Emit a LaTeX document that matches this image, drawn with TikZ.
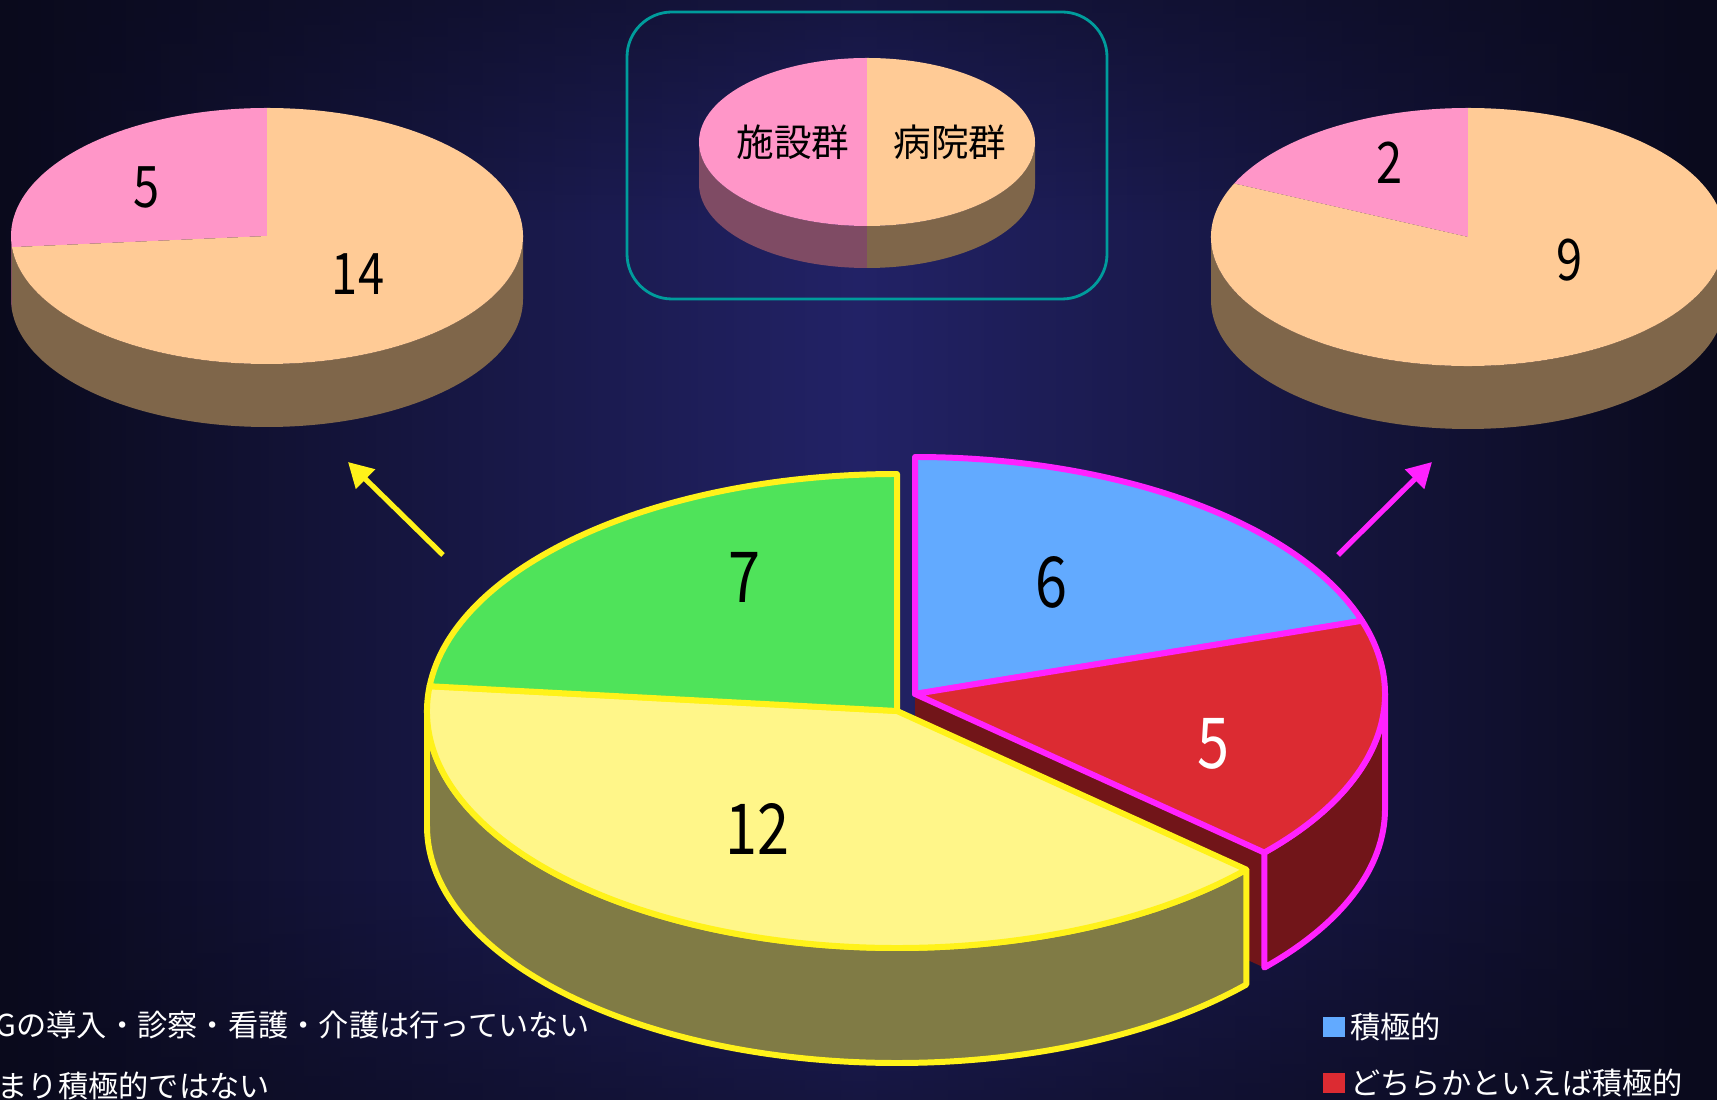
\documentclass[tikz,border=0pt]{standalone}
\usepackage{fontspec}
\setmainfont{Noto Sans CJK JP}
\newfontfamily\numfont[FakeStretch=0.82]{Noto Sans CJK JP}
\usetikzlibrary{positioning,arrows.meta,fadings}

\definecolor{bgmid}{HTML}{222266}
\definecolor{bgedge}{HTML}{0A0A1C}
\definecolor{pgreen}{HTML}{4FE35A}
\definecolor{pblue}{HTML}{62AAFF}
\definecolor{pred}{HTML}{DC2B32}
\definecolor{predside}{HTML}{711519}
\definecolor{pyellow}{HTML}{FFF689}
\definecolor{pyellowside}{HTML}{807B45}
\definecolor{lineyellow}{HTML}{FFF21A}
\definecolor{linemagenta}{HTML}{FF22FF}
\definecolor{peach}{HTML}{FFCB96}
\definecolor{peachside}{HTML}{7F664A}
\definecolor{grppink}{HTML}{FF96C8}
\definecolor{pinkside}{HTML}{7F4B64}
\definecolor{boxteal}{HTML}{009C9C}

\begin{document}
\begin{tikzpicture}[x=0.1mm,y=0.1mm,
  outlineY/.style={draw=lineyellow,line width=1.7pt,line join=round},
  outlineM/.style={draw=linemagenta,line width=1.7pt,line join=round},
  bignum/.style={font=\numfont\fontsize{20}{22}\selectfont},
  smallnum/.style={font=\numfont\fontsize{16.3}{18}\selectfont},
  grouplabel/.style={font=\fontsize{10.7}{12}\selectfont},
  keytext/.style={text=white,font=\fontsize{8.6}{10}\selectfont,inner sep=0pt,anchor=west},
  keybox/.style={inner sep=0pt,minimum width=2.2mm,minimum height=2mm},
  pointer/.style={line width=1.5pt,-{Triangle[length=7pt,width=7.5pt]}}]
\clip (0,0) rectangle (1717,-1100);
% background
\shade[left color=bgedge,right color=bgedge,middle color=bgmid] (0,0) rectangle (1717,-1100);
\fill[bgedge,opacity=0.5,path fading=south] (0,0) rectangle (1717,-220);
\fill[bgedge,opacity=0.5,path fading=north] (0,-880) rectangle (1717,-1100);

% legend box
\node[draw=boxteal,line width=0.8pt,rounded corners=4.5mm,minimum width=48mm,minimum height=28.7mm] (legendbox) at (867,-155.5) {};
\fill[pinkside] (867,-142) ++(180:168 and 84) arc[start angle=180,end angle=270,x radius=168,y radius=84] -- ++(0,-42) arc[start angle=270,end angle=180,x radius=168,y radius=84] -- cycle;
\fill[peachside] (867,-142) ++(270:168 and 84) arc[start angle=270,end angle=360,x radius=168,y radius=84] -- ++(0,-42) arc[start angle=360,end angle=270,x radius=168,y radius=84] -- cycle;
\fill[grppink] (867,-142) -- ++(90:168 and 84) arc[start angle=90,end angle=270,x radius=168,y radius=84] -- cycle;
\fill[peach] (867,-142) -- ++(-90:168 and 84) arc[start angle=-90,end angle=90,x radius=168,y radius=84] -- cycle;
\node[grouplabel] (shisetsu) at (793,-142) {施設群};
\node[grouplabel] (byouin) at (950,-142) {病院群};

% left small pie
\fill[pinkside] (267,-236) ++(180:256 and 128) arc[start angle=180,end angle=185,x radius=256,y radius=128] -- ++(0,-63) arc[start angle=185,end angle=180,x radius=256,y radius=128] -- cycle;
\fill[peachside] (267,-236) ++(185:256 and 128) arc[start angle=185,end angle=360,x radius=256,y radius=128] -- ++(0,-63) arc[start angle=360,end angle=185,x radius=256,y radius=128] -- cycle;
\fill[grppink] (267,-236) -- ++(90:256 and 128) arc[start angle=90,end angle=185,x radius=256,y radius=128] -- cycle;
\fill[peach] (267,-236) -- ++(185:256 and 128) arc[start angle=185,end angle=450,x radius=256,y radius=128] -- cycle;
\node[smallnum] (lfive) at (147,-187) {5};
\node[smallnum] (lfourteen) at (358,-274) {14};

% right small pie
\fill[peachside] (1468,-237) ++(180:257 and 129) arc[start angle=180,end angle=360,x radius=257,y radius=129] -- ++(0,-63) arc[start angle=360,end angle=180,x radius=257,y radius=129] -- cycle;
\fill[grppink] (1468,-237) -- ++(90:257 and 129) arc[start angle=90,end angle=155.5,x radius=257,y radius=129] -- cycle;
\fill[peach] (1468,-237) -- ++(155.5:257 and 129) arc[start angle=155.5,end angle=450,x radius=257,y radius=129] -- cycle;
\node[smallnum] (rtwo) at (1390,-163) {2};
\node[smallnum] (rnine) at (1570,-260) {9};

% main pie, pulled-out part
\coordinate (R) at (915,-694);
\fill[predside] (R) -- ++(-42:470 and 237) -- ++(0,-115) -- ++(-349.3,158.6) -- cycle;
\fill[predside,outlineM] (R) ++(-42:470 and 237) arc[start angle=-42,end angle=0,x radius=470,y radius=237] -- ++(0,-115) arc[start angle=0,end angle=-42,x radius=470,y radius=237] -- cycle;
\fill[pblue,outlineM] (R) -- ++(18:470 and 237) arc[start angle=18,end angle=90,x radius=470,y radius=237] -- cycle;
\fill[pred,outlineM] (R) -- ++(-42:470 and 237) arc[start angle=-42,end angle=18,x radius=470,y radius=237] -- cycle;
\node[bignum] (nsix) at (1051,-582) {6};
\node[bignum,text=white] (nfive) at (1213,-744) {5};

% main pie, rest
\coordinate (L) at (897,-711);
\fill[pyellowside,outlineY] (L) ++(180:470 and 237) arc[start angle=180,end angle=318,x radius=470,y radius=237] -- ++(0,-115) arc[start angle=318,end angle=180,x radius=470,y radius=237] -- cycle;
\fill[pyellow,outlineY] (L) -- ++(174:470 and 237) arc[start angle=174,end angle=318,x radius=470,y radius=237] -- cycle;
\fill[pgreen,outlineY] (L) -- ++(90:470 and 237) arc[start angle=90,end angle=174,x radius=470,y radius=237] -- cycle;
\node[bignum] (nseven) at (744,-577) {7};
\node[bignum] (ntwelve) at (757,-829) {12};

% arrows to the small pies
\coordinate (yfrom) at (443,-555);
\coordinate (yto) at (348,-462);
\coordinate (mfrom) at (1338,-555);
\coordinate (mto) at (1432,-462);
\draw[pointer,lineyellow] (yfrom) -- (yto);
\draw[pointer,linemagenta] (mfrom) -- (mto);

% keys
\node[keytext] (tnone) at (-5,-1025) {Gの導入・診察・看護・介護は行っていない};
\node[keytext] (tless) at (-3,-1086) {まり積極的ではない};
\node[keybox,fill=pblue] (kblue) at (1334,-1027) {};
\node[keytext,right=0.4mm of kblue] (tblue) {積極的};
\node[keybox,fill=pred] (kred) at (1334,-1083) {};
\node[keytext,right=0.4mm of kred] (tred) {どちらかといえば積極的};
\end{tikzpicture}
\end{document}
